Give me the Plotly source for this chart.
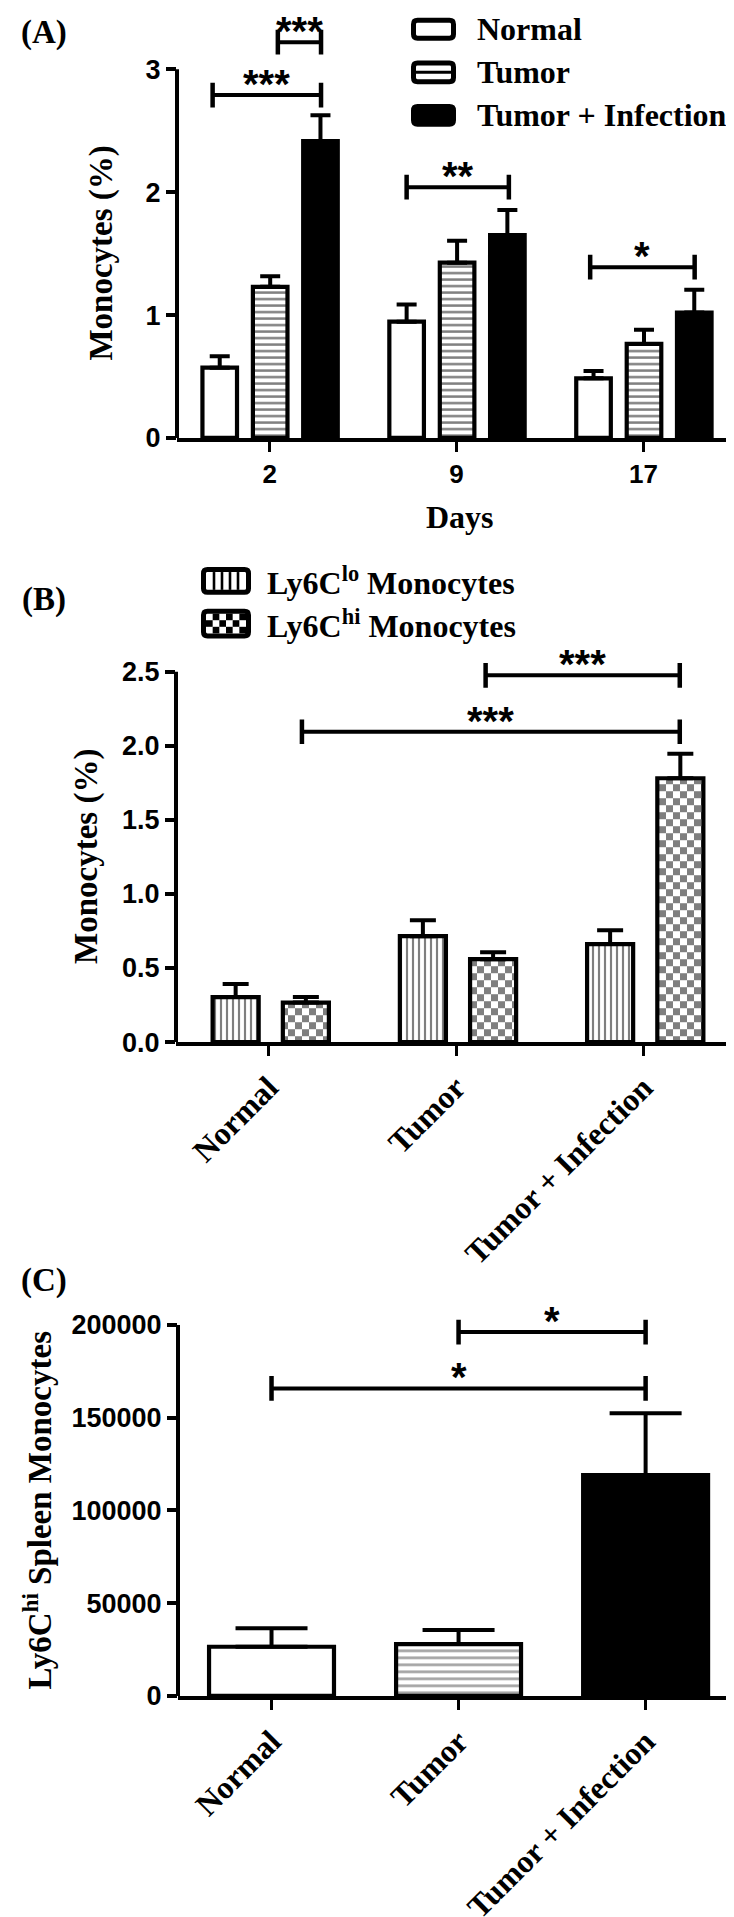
import plotly.graph_objects as go

W, H = 734, 1917

# ---------------- data ----------------
# Panel A
days = ["2", "9", "17"]
a_normal = [0.572, 0.946, 0.485]
a_normal_err = [0.093, 0.139, 0.060]
a_tumor = [1.230, 1.426, 0.765]
a_tumor_err = [0.085, 0.179, 0.115]
a_infect = [2.415, 1.650, 1.020]
a_infect_err = [0.210, 0.205, 0.185]
a_yticks = [0, 1, 2, 3]
a_brackets = [(-0.305, 0.275, 2.79, "***"), (0.044, 0.275, 3.22, "***"),
              (0.733, 1.28, 2.04, "**"), (1.715, 2.274, 1.39, "*")]

# Panel B
groups = ["Normal", "Tumor", "Tumor + Infection"]
b_lo = [0.304, 0.715, 0.662]
b_lo_err = [0.088, 0.107, 0.093]
b_hi = [0.267, 0.560, 1.781]
b_hi_err = [0.037, 0.047, 0.166]
b_yticks = [0.0, 0.5, 1.0, 1.5, 2.0, 2.5]
b_brackets = [(1.158, 2.195, 2.476, "***"), (0.177, 2.195, 2.095, "***")]

# Panel C
c_vals = [26500, 27960, 119100]
c_err = [10000, 7640, 33300]
c_yticks = [0, 50000, 100000, 150000, 200000]
c_brackets = [(1.0, 2.0, 196200, "*"), (0.0, 2.0, 165800, "*")]

# ---------------- layout helpers (pixel -> paper) ----------------
def PX(x):
    return x / W

def PY(y):
    return 1 - y / H

SERIF = "Liberation Serif"
SANS = "Liberation Sans"
BLACK = "black"

# panel geometry in pixels
A = dict(left=169, right=733, bottom=434.5, top=15, ppu=124.2)
B = dict(left=168, right=733, bottom=1045, top=650, ppu=149.7)
C = dict(left=170, right=733, bottom=1705.7, top=1310, ppu=93.7 / 50000)
for P in (A, B, C):
    P["ymax"] = (P["bottom"] - P["top"]) / P["ppu"]

fig = go.Figure()

def bar(x, y, err, center, width, marker, xa, ya, cap):
    return go.Bar(
        x=x, y=y, width=width, offset=center - width / 2,
        marker=dict(line=dict(color=BLACK, width=4.2), **marker),
        error_y=dict(type="data", array=err, arrayminus=[0] * len(err), symmetric=False,
                     color=BLACK, thickness=4, width=cap),
        xaxis=xa, yaxis=ya, showlegend=False, hoverinfo="skip",
    )

xa_pos = list(range(len(days)))
xg_pos = list(range(len(groups)))

white = dict(color="white")
hstripe = lambda s: dict(color="white", pattern=dict(shape="-", size=s, solidity=0.38,
                                                      fgcolor=BLACK, bgcolor="white"))
solid = dict(color=BLACK)
vstripe = dict(color="white", pattern=dict(shape="|", size=6, solidity=0.36,
                                           fgcolor=BLACK, bgcolor="white"))
checker = dict(color="white", pattern=dict(path="M0,0H7V7H0Z M7,7H14V14H7Z", size=14,
                                           fgcolor=BLACK, bgcolor="white"))

wA = 0.185
fig.add_trace(bar(xa_pos, a_normal, a_normal_err, -0.267, wA, white, "x", "y", 10))
fig.add_trace(bar(xa_pos, a_tumor, a_tumor_err, 0.003, wA, hstripe(6.5), "x", "y", 10))
fig.add_trace(bar(xa_pos, a_infect, a_infect_err, 0.272, wA, solid, "x", "y", 10))

wB = 0.246
fig.add_trace(bar(xg_pos, b_lo, b_lo_err, -0.177, wB, vstripe, "x2", "y2", 13))
fig.add_trace(bar(xg_pos, b_hi, b_hi_err, 0.198, wB, checker, "x2", "y2", 13))

wC = 0.668
fig.add_trace(go.Bar(
    x=xg_pos, y=c_vals, width=wC,
    marker=dict(color=["white", "white", BLACK],
                pattern=dict(shape=["", "-", ""], size=7, solidity=0.38,
                             fgcolor=BLACK, bgcolor=["white", "white", BLACK]),
                line=dict(color=BLACK, width=4.2)),
    error_y=dict(type="data", array=c_err, arrayminus=[0] * 3, symmetric=False,
                 color=BLACK, thickness=4, width=36),
    xaxis="x3", yaxis="y3", showlegend=False, hoverinfo="skip"))

def xaxis(P, vals, text, angle, font, rng):
    return dict(domain=[PX(P["left"]), PX(P["right"])], range=rng,
                tickmode="array", tickvals=vals, ticktext=text, tickangle=angle,
                tickfont=font, ticks="outside", ticklen=10, tickwidth=3, tickcolor=BLACK,
                showline=True, linewidth=4, linecolor=BLACK, showgrid=False, zeroline=False,
                fixedrange=True)

def yaxis(P, anchor, ticks, fmt):
    return dict(domain=[PY(P["bottom"]), PY(P["top"])], range=[0, P["ymax"]], anchor=anchor,
                tickmode="array", tickvals=ticks, tickformat=fmt,
                tickfont=dict(family=SANS, size=27, color=BLACK, weight="bold"),
                ticks="outside", ticklen=10, tickwidth=3.5, tickcolor=BLACK,
                showline=False, showgrid=False, zeroline=False, fixedrange=True)

num_font = dict(family=SANS, size=26, color=BLACK, weight="bold")
cat_font = dict(family=SERIF, size=32, color=BLACK, weight="bold")

fig.update_layout(
    width=W, height=H, margin=dict(l=0, r=0, t=0, b=0),
    paper_bgcolor="white", plot_bgcolor="white", barmode="overlay", showlegend=False,
    xaxis=xaxis(A, xa_pos, days, 0, num_font, [-0.4956, 2.522]),
    yaxis=yaxis(A, "x", a_yticks, "d"),
    xaxis2=xaxis(B, xg_pos, groups, -45, cat_font, [-0.4956, 2.522]),
    yaxis2=yaxis(B, "x2", b_yticks, ".1f"),
    xaxis3=xaxis(C, xg_pos, groups, -45, cat_font, [-0.5, 2.51]),
    yaxis3=yaxis(C, "x3", c_yticks, "d"),
)
fig.layout.xaxis.anchor = "y"
fig.layout.xaxis2.anchor = "y2"
fig.layout.xaxis3.anchor = "y3"

shapes = []
annos = []

# y-axis lines (only up to the top tick)
for P, ya, ticks in ((A, "y", a_yticks), (B, "y2", b_yticks), (C, "y3", c_yticks)):
    shapes.append(dict(type="line", xref="paper", yref=ya, x0=PX(P["left"]), x1=PX(P["left"]),
                       y0=0, y1=ticks[-1], line=dict(color=BLACK, width=4)))

# significance brackets
star_font = dict(family=SANS, size=40, color=BLACK, weight="bold")
for P, xr, yr, items in ((A, "x", "y", a_brackets), (B, "x2", "y2", b_brackets),
                         (C, "x3", "y3", c_brackets)):
    half = 12.5 / P["ppu"]
    for x0, x1, yv, lab in items:
        shapes.append(dict(type="line", xref=xr, yref=yr, x0=x0, x1=x1, y0=yv, y1=yv,
                           line=dict(color=BLACK, width=4)))
        for xx in (x0, x1):
            shapes.append(dict(type="line", xref=xr, yref=yr, x0=xx, x1=xx,
                               y0=yv - half, y1=yv + half, line=dict(color=BLACK, width=4.5)))
        annos.append(dict(text=lab, xref=xr, yref=yr, x=(x0 + x1) / 2, y=yv,
                          xanchor="center", yanchor="bottom", yshift=-13,
                          showarrow=False, font=star_font))

# legend keys (drawn as shapes)
def rrect(x0, y0, x1, y1, r=4):
    return (f"M{PX(x0 + r)},{PY(y0)} L{PX(x1 - r)},{PY(y0)} Q{PX(x1)},{PY(y0)} {PX(x1)},{PY(y0 + r)} "
            f"L{PX(x1)},{PY(y1 - r)} Q{PX(x1)},{PY(y1)} {PX(x1 - r)},{PY(y1)} "
            f"L{PX(x0 + r)},{PY(y1)} Q{PX(x0)},{PY(y1)} {PX(x0)},{PY(y1 - r)} "
            f"L{PX(x0)},{PY(y0 + r)} Q{PX(x0)},{PY(y0)} {PX(x0 + r)},{PY(y0)} Z")

def key(x0, y0, x1, y1, fill):
    shapes.append(dict(type="path", xref="paper", yref="paper", path=rrect(x0, y0, x1, y1),
                       fillcolor=fill, line=dict(color=BLACK, width=5)))

def prect(x0, y0, x1, y1, fill):
    shapes.append(dict(type="rect", xref="paper", yref="paper", x0=PX(x0), x1=PX(x1),
                       y0=PY(y1), y1=PY(y0), fillcolor=fill, line=dict(width=0)))

legend_font = dict(family=SERIF, size=32, color=BLACK, weight="bold")
a_legend = ["Normal", "Tumor", "Tumor + Infection"]
a_key_y = [21.5, 65, 108.5]
key(405.5, a_key_y[0] - 9, 445.5, a_key_y[0] + 9, "white")
key(405.5, a_key_y[1] - 9.5, 445.5, a_key_y[1] + 9.5, "white")
prect(407, a_key_y[1] - 1.5, 444, a_key_y[1] + 1.5, BLACK)
key(405.5, a_key_y[2] - 9, 445.5, a_key_y[2] + 9, BLACK)
for t, yy in zip(a_legend, a_key_y):
    annos.append(dict(text=t, xref="paper", yref="paper", x=PX(467), y=PY(yy),
                      xanchor="left", yanchor="middle", showarrow=False, font=legend_font))

b_legend = ["Ly6C<sup>lo</sup> Monocytes", "Ly6C<sup>hi</sup> Monocytes"]
b_key_y = [579, 622]
key(195.5, b_key_y[0] - 11.5, 240.5, b_key_y[0] + 11.5, "white")
for k in range(1, 5):
    xx = 198 + 40 * k / 5
    prect(xx - 1.3, b_key_y[0] - 9, xx + 1.3, b_key_y[0] + 9, BLACK)
key(195.5, b_key_y[1] - 12.5, 240.5, b_key_y[1] + 12.5, "white")
cs = 40 / 6
for i in range(3):
    for j in range(6):
        if (i + j) % 2 == 1:
            prect(198 + j * cs, b_key_y[1] - 10 + i * cs, 198 + (j + 1) * cs,
                  b_key_y[1] - 10 + (i + 1) * cs, BLACK)
for t, yy in zip(b_legend, b_key_y):
    annos.append(dict(text=t, xref="paper", yref="paper", x=PX(257), y=PY(yy),
                      xanchor="left", yanchor="middle", showarrow=False, font=legend_font))

# panel letters
for lab, yy in (("(A)", 25), ("(B)", 597.5), ("(C)", 1285.5)):
    annos.append(dict(text=lab, xref="paper", yref="paper", x=PX(36), y=PY(yy),
                      xanchor="center", yanchor="middle", showarrow=False,
                      font=dict(family=SERIF, size=33, color=BLACK, weight="bold")))

# axis titles
title_font = dict(family=SERIF, size=32, color=BLACK, weight="bold")
annos.append(dict(text="Days", xref="paper", yref="paper", x=PX(452), y=PY(514),
                  xanchor="center", yanchor="middle", showarrow=False, font=title_font))
ytitle_font = dict(family=SERIF, size=33, color=BLACK, weight="bold")
annos.append(dict(text="Monocytes (%)", xref="paper", yref="y", x=PX(94), y=a_yticks[-1] / 2,
                  textangle=-90, xanchor="center", yanchor="middle", showarrow=False,
                  font=ytitle_font))
annos.append(dict(text="Monocytes (%)", xref="paper", yref="y2", x=PX(79), y=b_yticks[-1] / 2,
                  textangle=-90, xanchor="center", yanchor="middle", showarrow=False,
                  font=ytitle_font))
annos.append(dict(text="Ly6C<sup>hi</sup> Spleen Monocytes", xref="paper", yref="y3", x=PX(30),
                  y=c_yticks[-1] / 2, textangle=-90, xanchor="center", yanchor="middle",
                  showarrow=False, font=ytitle_font))

fig.update_layout(shapes=shapes, annotations=annos)
fig.write_html("out.html")
